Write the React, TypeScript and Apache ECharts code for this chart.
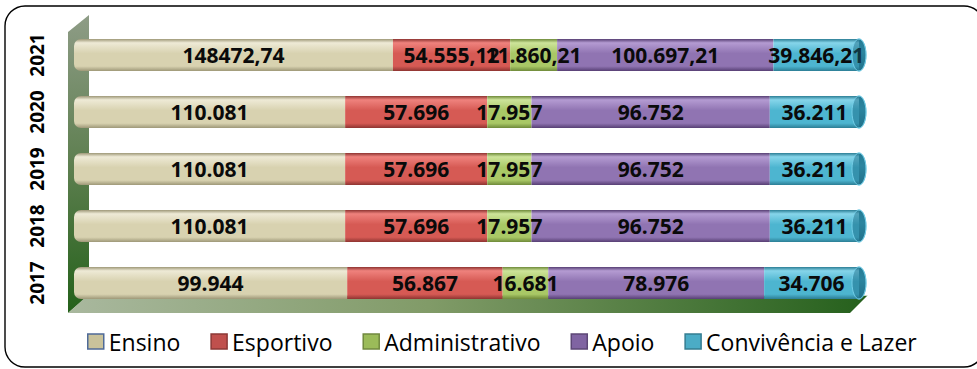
import React, { useEffect, useRef } from "react";
import * as echarts from "echarts";

const years = ["2017", "2018", "2019", "2020", "2021"];
const seriesNames = ["Ensino", "Esportivo", "Administrativo", "Apoio", "Convivência e Lazer"];

const ensino = [99944, 110081, 110081, 110081, 148472.74];
const esportivo = [56867, 57696, 57696, 57696, 54555.12];
const administrativo = [16681, 17957, 17957, 17957, 21860.21];
const apoio = [78976, 96752, 96752, 96752, 100697.21];
const convivencia = [34706, 36211, 36211, 36211, 39846.21];

const ensinoLabels = ["99.944", "110.081", "110.081", "110.081", "148472,74"];
const esportivoLabels = ["56.867", "57.696", "57.696", "57.696", "54.555,12"];
const administrativoLabels = ["16.681", "17.957", "17.957", "17.957", "11.860,21"];
const apoioLabels = ["78.976", "96.752", "96.752", "96.752", "100.697,21"];
const convivenciaLabels = ["34.706", "36.211", "36.211", "36.211", "39.846,21"];

const values = [ensino, esportivo, administrativo, apoio, convivencia];
const labels = [ensinoLabels, esportivoLabels, administrativoLabels, apoioLabels, convivenciaLabels];

const palette = [
  { light: "#EEEAD6", base: "#D8D2B0", dark: "#9E9878", icon: "#C9C29B", border: "#4F6A98" },
  { light: "#EF827D", base: "#D65A54", dark: "#8E3431", icon: "#C0504D", border: "#8C3836" },
  { light: "#CDE49A", base: "#A9C866", dark: "#6F8A3A", icon: "#9BBB59", border: "#71893F" },
  { light: "#B49BD2", base: "#9074B2", dark: "#573F74", icon: "#8064A2", border: "#5C4776" },
  { light: "#86D5EA", base: "#4DB5D0", dark: "#2C7E95", icon: "#4BACC6", border: "#357D91" },
];

const grad = (p: any) => ({
  type: "linear",
  x: 0,
  y: 0,
  x2: 0,
  y2: 1,
  colorStops: [
    { offset: 0, color: p.dark },
    { offset: 0.12, color: p.light },
    { offset: 0.45, color: p.base },
    { offset: 0.85, color: p.base },
    { offset: 1, color: p.dark },
  ],
});

export default function App() {
  const ref = useRef<HTMLDivElement>(null);
  useEffect(() => {
    if (!ref.current) return;
    const chart = echarts.init(ref.current, null, { renderer: "svg" });
    const totals = years.map((_, i) => values.reduce((s, arr) => s + arr[i], 0));

    const barSeries = seriesNames.map((name, si) => ({
      name,
      type: "bar",
      stack: "total",
      barWidth: 32,
      z: 3,
      data: values[si].map((v, i) => (v / totals[i]) * 100),
      itemStyle: {
        color: grad(palette[si]),
        borderRadius: si === 0 ? [7, 0, 0, 7] : 0,
      },
      label: {
        show: true,
        position: "inside",
        offset: si === 4 ? [-5, 6] : [0, 6],
        overflow: "none",
        color: "#0a0a0a",
        fontWeight: "bold",
        fontSize: 21,
        fontFamily: "Open Sans",
        formatter: (p: any) => labels[si][p.dataIndex],
      },
      labelLayout: { hideOverlap: false },
      emphasis: { disabled: true },
    }));

    const capData = years.map((y) => [100, y]);

    const capBase = {
      type: "custom",
      name: "cap",
      z: 2,
      silent: true,
      data: capData,
      renderItem: (params: any, api: any) => {
        const p = api.coord([api.value(0), api.value(1)]);
        return {
          type: "ellipse",
          shape: { cx: p[0], cy: p[1], rx: 7, ry: 16 },
          style: {
            fill: {
              type: "linear",
              x: 0,
              y: 0,
              x2: 0,
              y2: 1,
              colorStops: [
                { offset: 0, color: "#2F8AA3" },
                { offset: 0.4, color: "#3C9DB7" },
                { offset: 1, color: "#287A91" },
              ],
            },
            stroke: "#5FC0DA",
            lineWidth: 1,
          },
        };
      },
    };

    const capOverlay = {
      type: "custom",
      name: "capOverlay",
      z: 4,
      silent: true,
      data: capData,
      renderItem: (params: any, api: any) => {
        const p = api.coord([api.value(0), api.value(1)]);
        return {
          type: "ellipse",
          shape: { cx: p[0], cy: p[1], rx: 7, ry: 16 },
          style: {
            fill: "rgba(25,105,130,0.45)",
            stroke: "rgba(120,210,235,0.9)",
            lineWidth: 1,
          },
        };
      },
    };

    chart.setOption({
      animation: false,
      grid: { left: 74, right: 118, top: 26.5, height: 285 },
      xAxis: { type: "value", min: 0, max: 100, show: false },
      yAxis: {
        type: "category",
        data: years,
        axisLine: { show: false },
        axisTick: { show: false },
        axisLabel: {
          rotate: 90,
          margin: 28,
          color: "#000",
          fontWeight: "bold",
          fontSize: 19,
          fontFamily: "Open Sans",
        },
      },
      legend: {
        left: 82,
        top: 325,
        itemWidth: 16,
        itemHeight: 15,
        itemGap: 30,
        icon: "rect",
        textStyle: { fontSize: 23, fontFamily: "Open Sans", color: "#000" },
        data: seriesNames.map((name, si) => ({
          name,
          itemStyle: { color: palette[si].icon, borderColor: palette[si].border, borderWidth: 1.5 },
        })),
      },
      graphic: [
        {
          type: "polygon",
          z: 0,
          shape: { points: [[68, 32], [89, 15], [89, 295], [68, 313]] },
          style: {
            fill: {
              type: "linear",
              x: 0,
              y: 0,
              x2: 0,
              y2: 1,
              colorStops: [
                { offset: 0, color: "#8E9C86" },
                { offset: 0.5, color: "#5E7F50" },
                { offset: 1, color: "#24611A" },
              ],
            },
          },
        },
        {
          type: "polygon",
          z: 0,
          shape: { points: [[88, 295], [868, 295], [850, 313], [68, 313]] },
          style: {
            fill: {
              type: "linear",
              x: 0,
              y: 0,
              x2: 1,
              y2: 0,
              colorStops: [
                { offset: 0, color: "#A9B89E" },
                { offset: 0.45, color: "#819B68" },
                { offset: 1, color: "#25601C" },
              ],
            },
          },
        },
        {
          type: "line",
          z: 1,
          shape: { x1: 88, y1: 295, x2: 868, y2: 295 },
          style: { stroke: "#ffffff", lineWidth: 1.5 },
        },
        {
          type: "rect",
          z: 10,
          shape: { x: 5, y: 6, width: 979, height: 361, r: 20 },
          style: { fill: "none", stroke: "#000", lineWidth: 1.4 },
        },
      ],
      series: [...barSeries, capBase, capOverlay],
    });
    return () => chart.dispose();
  }, []);
  return (
    <div
      ref={ref}
      style={{ position: "fixed", left: 0, top: 0, width: 977, height: 369, background: "#fff" }}
    />
  );
}
